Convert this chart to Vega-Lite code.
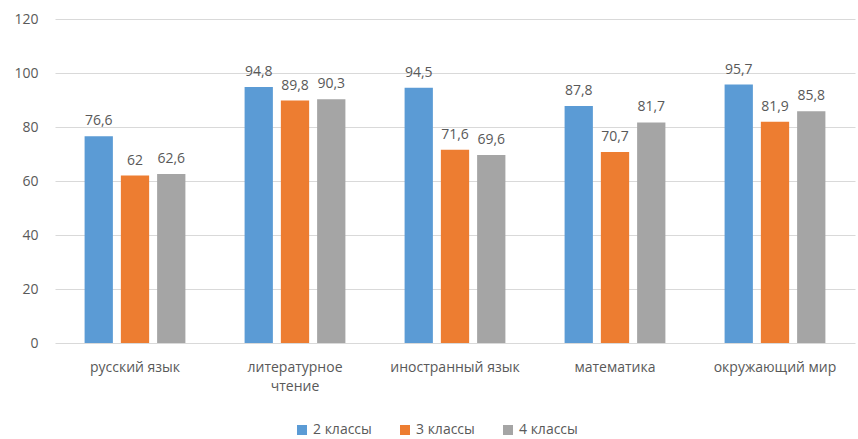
{
  "$schema": "https://vega.github.io/schema/vega-lite/v6.json",
  "autosize": "none",
  "width": 800,
  "height": 324,
  "padding": {"left": 55, "top": 19, "right": 3, "bottom": 96},
  "background": "white",
  "data": {"values": [
    {"subject": "русский язык", "group": "2 классы", "value": 76.6, "label": "76,6"},
    {"subject": "русский язык", "group": "3 классы", "value": 62, "label": "62"},
    {"subject": "русский язык", "group": "4 классы", "value": 62.6, "label": "62,6"},
    {"subject": "литературное чтение", "group": "2 классы", "value": 94.8, "label": "94,8"},
    {"subject": "литературное чтение", "group": "3 классы", "value": 89.8, "label": "89,8"},
    {"subject": "литературное чтение", "group": "4 классы", "value": 90.3, "label": "90,3"},
    {"subject": "иностранный язык", "group": "2 классы", "value": 94.5, "label": "94,5"},
    {"subject": "иностранный язык", "group": "3 классы", "value": 71.6, "label": "71,6"},
    {"subject": "иностранный язык", "group": "4 классы", "value": 69.6, "label": "69,6"},
    {"subject": "математика", "group": "2 классы", "value": 87.8, "label": "87,8"},
    {"subject": "математика", "group": "3 классы", "value": 70.7, "label": "70,7"},
    {"subject": "математика", "group": "4 классы", "value": 81.7, "label": "81,7"},
    {"subject": "окружающий мир", "group": "2 классы", "value": 95.7, "label": "95,7"},
    {"subject": "окружающий мир", "group": "3 классы", "value": 81.9, "label": "81,9"},
    {"subject": "окружающий мир", "group": "4 классы", "value": 85.8, "label": "85,8"}
  ]},
  "encoding": {
    "x": {
      "field": "subject", "type": "nominal", "sort": null,
      "scale": {"paddingInner": 0.37, "paddingOuter": 0.185},
      "axis": {
        "title": null, "labelAngle": 0, "domain": false, "ticks": false,
        "labelFont": "Open Sans", "labelFontSize": 14, "labelColor": "#595959",
        "labelPadding": 17, "labelLimit": 200, "labelLineHeight": 19,
        "labelExpr": "datum.label == 'литературное чтение' ? ['литературное', 'чтение'] : datum.label"
      }
    },
    "xOffset": {"field": "group", "type": "nominal", "scale": {"paddingInner": 0.22}},
    "y": {
      "field": "value", "type": "quantitative",
      "scale": {"domain": [0, 120]},
      "axis": {
        "title": null, "values": [0, 20, 40, 60, 80, 100, 120],
        "domain": false, "ticks": false, "gridColor": "#D9D9D9", "gridWidth": 1,
        "labelFont": "Open Sans", "labelFontSize": 14, "labelColor": "#595959",
        "labelPadding": 17
      }
    }
  },
  "layer": [
    {
      "mark": {"type": "bar"},
      "encoding": {
        "color": {
          "field": "group", "type": "nominal",
          "scale": {"domain": ["2 классы", "3 классы", "4 классы"], "range": ["#5B9BD5", "#ED7D31", "#A5A5A5"]},
          "legend": {
            "title": null, "orient": "none", "direction": "horizontal",
            "legendX": 240, "legendY": 404,
            "symbolType": "square", "symbolSize": 100, "symbolStrokeWidth": 0,
            "labelFont": "Open Sans", "labelFontSize": 14, "labelColor": "#595959",
            "columnPadding": 26, "labelOffset": 4
          }
        }
      }
    },
    {
      "mark": {"type": "text", "baseline": "bottom", "dy": -8, "font": "Open Sans", "fontSize": 14, "color": "#595959"},
      "encoding": {"text": {"field": "label"}}
    }
  ],
  "config": {"view": {"stroke": null}}
}
